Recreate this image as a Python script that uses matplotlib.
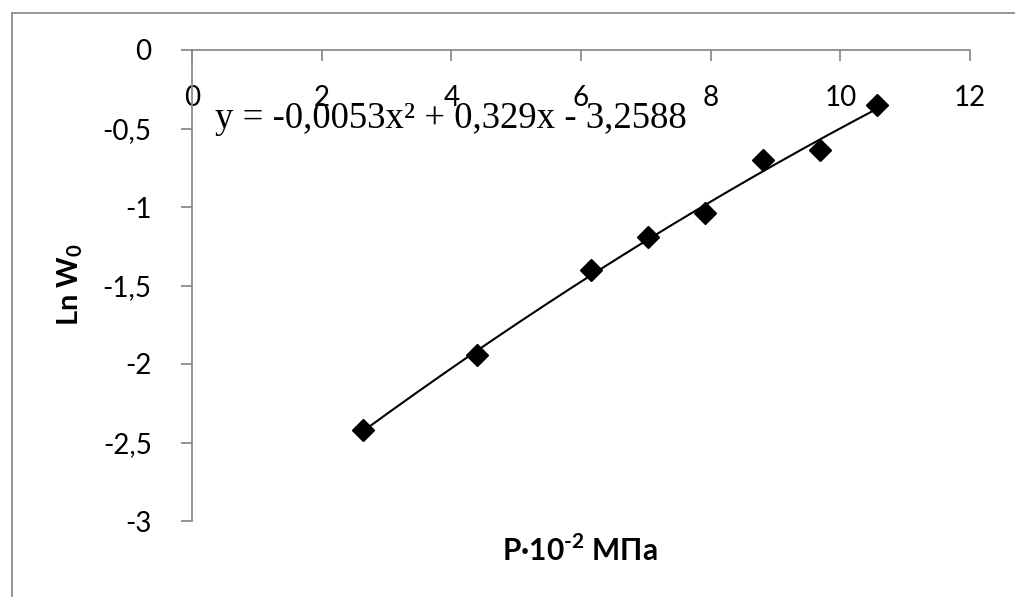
import matplotlib
matplotlib.use("Agg")
import matplotlib.pyplot as plt
import numpy as np
from matplotlib.lines import Line2D

# pressure, P*10^-2 MPa
pressure = [2.64, 4.40, 6.16, 7.04, 7.92, 8.80, 9.68, 10.56]
# ln W0
ln_w0 = [-2.42, -1.94, -1.40, -1.19, -1.04, -0.70, -0.64, -0.35]

# quadratic trendline: a*x^2 + b*x + c
trend_coef = [-0.0053, 0.329, -3.2588]
trend_label = "y = -0,0053x\u00b2 + 0,329x - 3,2588"

x_ticks = [0, 2, 4, 6, 8, 10, 12]
x_tick_labels = ["0", "2", "4", "6", "8", "10", "12"]
y_ticks = [0, -0.5, -1, -1.5, -2, -2.5, -3]
y_tick_labels = ["0", "-0,5", "-1", "-1,5", "-2", "-2,5", "-3"]

W, H, DPI = 1015, 597, 100
AXIS_GREY = "#8c8c8c"
FONT = ["Lato", "DejaVu Sans"]

plt.rcParams["font.family"] = FONT
# mathtext is only used in the bold axis titles
plt.rcParams["mathtext.fontset"] = "custom"
plt.rcParams["mathtext.rm"] = "Lato:bold"
plt.rcParams["mathtext.bf"] = "Lato:bold"

fig = plt.figure(figsize=(W / DPI, H / DPI), dpi=DPI)

# chart area frame (runs off the right and bottom edges)
left_px, top_px = 12, 13
fig.add_artist(Line2D([left_px / W, 1.0], [1 - top_px / H] * 2,
                      transform=fig.transFigure, color=AXIS_GREY, lw=1.3))
fig.add_artist(Line2D([left_px / W] * 2, [0.0, 1 - top_px / H],
                      transform=fig.transFigure, color=AXIS_GREY, lw=1.3))

ax_l, ax_r, ax_t, ax_b = 192, 970, 50, 521
ax = fig.add_axes([ax_l / W, 1 - ax_b / H, (ax_r - ax_l) / W, (ax_b - ax_t) / H])
ax.set_xlim(0, 12)
ax.set_ylim(-3, 0)

for side in ("right", "bottom"):
    ax.spines[side].set_visible(False)
for side in ("left", "top"):
    ax.spines[side].set_color(AXIS_GREY)
    ax.spines[side].set_linewidth(1.3)

# horizontal axis sits at y = 0, labels drawn underneath it
ax.xaxis.tick_top()
ax.set_xticks(x_ticks)
ax.set_xticklabels(x_tick_labels)
ax.tick_params(axis="x", direction="in", length=8, width=1.3, color=AXIS_GREY,
               pad=-44, labelsize=20)
ax.set_yticks(y_ticks)
ax.set_yticklabels(y_tick_labels)
ax.tick_params(axis="y", direction="out", length=8, width=1.3, color=AXIS_GREY,
               pad=21, labelsize=20)

# trendline and measured points
xs = np.linspace(min(pressure), max(pressure), 200)
ax.plot(xs, np.polyval(trend_coef, xs), color="black", lw=1.5, zorder=3)
ax.plot(pressure, ln_w0, linestyle="none", marker="D", markersize=11,
        color="black", zorder=4, clip_on=False)

ax.text(0.35, -0.44, trend_label, fontsize=26.5, family="Liberation Serif",
        ha="left", va="center", zorder=5)

fig.text(580 / W, 1 - 550 / H, r"P·10$^{\text{-}2}$ МПа", fontsize=21.5,
         fontweight="bold", ha="center", va="center")
fig.text(70 / W, 1 - 285 / H, r"Ln W$_{0}$", fontsize=21,
         fontweight="bold", ha="center", va="center", rotation=90)

fig.savefig("out.png", dpi=DPI)
